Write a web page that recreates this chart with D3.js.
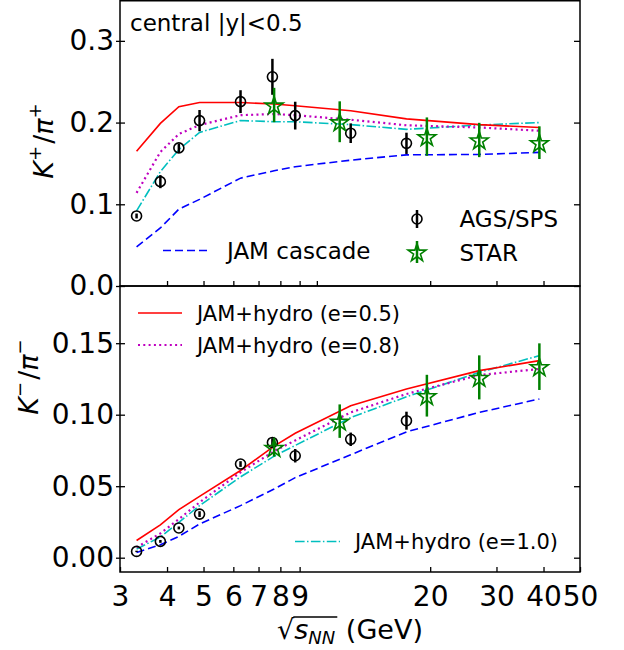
<!DOCTYPE html>
<html>
<head>
<meta charset="utf-8">
<script src="https://cdn.jsdelivr.net/npm/d3@7"></script>
<style>
  body { margin: 0; background: #fff; }
  text { font-family: "DejaVu Sans", sans-serif; fill: #000; }
</style>
</head>
<body>
<svg id="fig" width="624" height="650"></svg>
<script>
// Collision energies (GeV) of the model calculations
const modelEnergies = [3.32, 3.84, 4.3, 4.88, 6.27, 7.7, 8.76, 12.3, 17.3, 27, 39];

// K+/pi+ model curves
const kpHydro05  = [0.165, 0.199, 0.2195, 0.2245, 0.2245, 0.2228, 0.2205, 0.2145, 0.2045, 0.1975, 0.194];
const kpHydro08  = [0.114, 0.164, 0.186, 0.197, 0.209, 0.2105, 0.209, 0.2035, 0.1967, 0.194, 0.190];
const kpHydro10  = [0.092, 0.140, 0.167, 0.188, 0.2025, 0.201, 0.201, 0.1975, 0.1917, 0.197, 0.200];
const kpCascade  = [0.048, 0.071, 0.094, 0.106, 0.132, 0.141, 0.146, 0.154, 0.1605, 0.161, 0.1635];

// K-/pi- model curves
const kmHydro05  = [0.012, 0.023, 0.0336, 0.0429, 0.061, 0.078, 0.087, 0.1063, 0.118, 0.1308, 0.1378];
const kmHydro08  = [0.0072, 0.017, 0.027, 0.0387, 0.0597, 0.0745, 0.082, 0.1016, 0.1145, 0.1277, 0.132];
const kmHydro10  = [0.006, 0.0145, 0.0247, 0.0364, 0.0565, 0.071, 0.0785, 0.098, 0.1125, 0.1296, 0.1413];
const kmCascade  = [0.0037, 0.009, 0.0149, 0.0236, 0.0364, 0.048, 0.056, 0.072, 0.088, 0.1016, 0.111];

// AGS/SPS measurements
const agsEnergies = [3.32, 3.84, 4.3, 4.88, 6.27, 7.62, 8.76, 12.3, 17.3];
const agsKp    = [0.0857, 0.1277, 0.169, 0.2024, 0.2256, 0.256, 0.2085, 0.187, 0.1746];
const agsKpErr = [0.003, 0.008, 0.005, 0.013, 0.014, 0.022, 0.017, 0.012, 0.013];
const agsKm    = [0.0044, 0.0114, 0.0208, 0.0305, 0.0655, 0.0806, 0.0713, 0.0828, 0.0958];
const agsKmErr = [0.0005, 0.001, 0.001, 0.002, 0.002, 0.003, 0.0047, 0.0047, 0.0063];

// STAR beam energy scan measurements
const starEnergies = [7.7, 11.5, 19.6, 27, 39];
const starKp    = [0.2215, 0.201, 0.1828, 0.1787, 0.1754];
const starKpErr = [0.021, 0.025, 0.0235, 0.021, 0.020];
const starKm    = [0.0771, 0.0955, 0.1133, 0.1261, 0.1336];
const starKmErr = [0.0064, 0.0117, 0.0146, 0.0154, 0.0163];

// Tick values
const xTickLabels = [3, 4, 5, 6, 7, 8, 9, 20, 30, 40, 50];
const xTicksTop = [4, 5, 6, 7, 8, 9, 10, 20, 30, 40];
const yTicksTop = [0.0, 0.1, 0.2, 0.3];
const yTicksBottom = [0.00, 0.05, 0.10, 0.15];

const svg = d3.select("#fig");
const L = 120, R = 580, T0 = 0, MID = 286, B = 572;
const TICK_FONT = "28px";

const x = d3.scaleLog().domain([3, 50]).range([L, R]);
const yTop = d3.scaleLinear().domain([0, 0.35]).range([MID, T0]);
const yBot = d3.scaleLinear().domain([-0.01, 0.19]).range([B, MID]);

const COL = { red: "#ff0000", mag: "#bf00bf", cyan: "#00bfbf", blue: "#0000ff", green: "#008000" };
const styles = {
  h05: { color: COL.red, dash: null, width: 1.6 },
  h08: { color: COL.mag, dash: "2,3.3", width: 2.2 },
  h10: { color: COL.cyan, dash: "9.6,2.4,1.5,2.4", width: 1.6 },
  cas: { color: COL.blue, dash: "8,4", width: 1.6 }
};

function drawCurve(g, vals, yScale, st) {
  const gen = d3.line().x((d, i) => x(modelEnergies[i])).y(d => yScale(d));
  g.append("path").attr("d", gen(vals))
    .attr("fill", "none").attr("stroke", st.color)
    .attr("stroke-width", st.width)
    .attr("stroke-dasharray", st.dash);
}

const starSym = d3.symbol().type(d3.symbolStar).size(100);

function drawAgs(g, vals, errs, yScale) {
  vals.forEach((v, i) => {
    const cx = x(agsEnergies[i]);
    g.append("line").attr("x1", cx).attr("x2", cx)
      .attr("y1", yScale(v - errs[i])).attr("y2", yScale(v + errs[i]))
      .attr("stroke", "#000").attr("stroke-width", 2.5);
    g.append("circle").attr("cx", cx).attr("cy", yScale(v)).attr("r", 5)
      .attr("fill", "none").attr("stroke", "#000").attr("stroke-width", 1.6);
  });
}

function drawStar(g, vals, errs, yScale) {
  vals.forEach((v, i) => {
    const cx = x(starEnergies[i]);
    g.append("line").attr("x1", cx).attr("x2", cx)
      .attr("y1", yScale(v - errs[i])).attr("y2", yScale(v + errs[i]))
      .attr("stroke", COL.green).attr("stroke-width", 2.5);
    g.append("path").attr("d", starSym())
      .attr("transform", `translate(${cx},${yScale(v) + 1})`)
      .attr("fill", "none").attr("stroke", COL.green).attr("stroke-width", 1.6);
  });
}

function yAxis(yScale, ticks, fmt) {
  const gl = svg.append("g").attr("transform", `translate(${L},0)`)
    .call(d3.axisLeft(yScale).tickValues(ticks).tickFormat(d3.format(fmt)).tickSize(4).tickPadding(2));
  gl.select(".domain").remove();
  gl.selectAll(".tick line").attr("x1", 5).attr("x2", -4).attr("stroke-width", 1.3);
  gl.selectAll(".tick text").style("font-size", TICK_FONT).style("font-family", "DejaVu Sans");
  const gr = svg.append("g").attr("transform", `translate(${R},0)`)
    .call(d3.axisRight(yScale).tickValues(ticks).tickSize(-6).tickFormat(""));
  gr.select(".domain").remove();
  gr.selectAll(".tick line").attr("stroke-width", 1.3);
}

// ---- top panel: K+/pi+ ----
const gTop = svg.append("g");
drawCurve(gTop, kpCascade, yTop, styles.cas);
drawCurve(gTop, kpHydro10, yTop, styles.h10);
drawCurve(gTop, kpHydro08, yTop, styles.h08);
drawCurve(gTop, kpHydro05, yTop, styles.h05);
drawAgs(gTop, agsKp, agsKpErr, yTop);
drawStar(gTop, starKp, starKpErr, yTop);

// ---- bottom panel: K-/pi- ----
const gBot = svg.append("g");
drawCurve(gBot, kmCascade, yBot, styles.cas);
drawCurve(gBot, kmHydro10, yBot, styles.h10);
drawCurve(gBot, kmHydro08, yBot, styles.h08);
drawCurve(gBot, kmHydro05, yBot, styles.h05);
drawAgs(gBot, agsKm, agsKmErr, yBot);
drawStar(gBot, starKm, starKmErr, yBot);

// axes
yAxis(yTop, yTicksTop, ".1f");
yAxis(yBot, yTicksBottom, ".2f");

const gxTop = svg.append("g").attr("transform", `translate(0,${MID})`)
  .call(d3.axisBottom(x).tickValues(xTicksTop).tickSize(-5).tickFormat(""));
gxTop.select(".domain").remove();
gxTop.selectAll(".tick line").attr("stroke-width", 1.3);

const gxBot = svg.append("g").attr("transform", `translate(0,${B})`)
  .call(d3.axisBottom(x).tickValues(xTickLabels).tickSize(-5).tickPadding(14).tickFormat(d3.format("d")));
gxBot.select(".domain").remove();
gxBot.selectAll(".tick line").attr("stroke-width", 1.3);
gxBot.selectAll(".tick text").style("font-size", TICK_FONT).style("font-family", "DejaVu Sans");

// frames
svg.append("rect").attr("x", L).attr("y", 0.75).attr("width", R - L).attr("height", MID - 0.75)
  .attr("fill", "none").attr("stroke", "#000").attr("stroke-width", 1.5);
svg.append("rect").attr("x", L).attr("y", MID).attr("width", R - L).attr("height", B - MID)
  .attr("fill", "none").attr("stroke", "#000").attr("stroke-width", 1.5);

// panel annotation
svg.append("text").attr("x", 130).attr("y", 31).style("font-size", "23px").text("central |y|<0.5");

// legends
function legLine(x1, x2, y, st, label, tx, fs) {
  svg.append("line").attr("x1", x1).attr("x2", x2).attr("y1", y).attr("y2", y)
    .attr("stroke", st.color).attr("stroke-width", st.width).attr("stroke-dasharray", st.dash);
  svg.append("text").attr("x", tx).attr("y", y + fs * 0.365).style("font-size", fs + "px").text(label);
}
legLine(163, 210, 250.5, styles.cas, "JAM cascade", 227, 23);
legLine(138, 182, 313, styles.h05, "JAM+hydro (e=0.5)", 197, 21);
legLine(138, 182, 345, styles.h08, "JAM+hydro (e=0.8)", 197, 21);
legLine(295, 340, 541.5, styles.h10, "JAM+hydro (e=1.0)", 355, 21);

// data legend
svg.append("line").attr("x1", 417).attr("x2", 417).attr("y1", 210).attr("y2", 228)
  .attr("stroke", "#000").attr("stroke-width", 2.5);
svg.append("circle").attr("cx", 417).attr("cy", 219).attr("r", 5)
  .attr("fill", "none").attr("stroke", "#000").attr("stroke-width", 1.6);
svg.append("text").attr("x", 459.5).attr("y", 226.5).style("font-size", "23px").text("AGS/SPS");
svg.append("line").attr("x1", 417).attr("x2", 417).attr("y1", 241).attr("y2", 263)
  .attr("stroke", COL.green).attr("stroke-width", 2.5);
svg.append("path").attr("d", starSym()).attr("transform", "translate(417,253)")
  .attr("fill", "none").attr("stroke", COL.green).attr("stroke-width", 1.6);
svg.append("text").attr("x", 459.5).attr("y", 260.5).style("font-size", "23px").text("STAR");

// y-axis titles: K+/pi+ and K-/pi-
function ratioLabel(cx, cy, sign) {
  const t = svg.append("text").attr("transform", `translate(${cx},${cy}) rotate(-90)`)
    .attr("text-anchor", "middle").style("font-size", "27px");
  t.append("tspan").style("font-style", "italic").text("K");
  t.append("tspan").attr("dy", -12).style("font-size", "18px").text(sign);
  t.append("tspan").attr("dy", 12).attr("dx", 2).text("/");
  t.append("tspan").style("font-style", "italic").text("π");
  t.append("tspan").attr("dy", -12).style("font-size", "18px").text(sign);
}
ratioLabel(53, 141, "+");
ratioLabel(38, 377, "\u2212");

// x-axis title: sqrt(s_NN) (GeV)
(function () {
  const base = 639;
  const g = svg.append("g");
  const rad = g.append("text").attr("y", base).style("font-size", "27px").text("\u221A");
  const s = g.append("text").attr("y", base).style("font-size", "27px").style("font-style", "italic").text("s");
  const nn = g.append("text").attr("y", base + 5).style("font-size", "18px").style("font-style", "italic").text("NN");
  const gev = g.append("text").attr("y", base).style("font-size", "27px").text("\u00A0(GeV)");
  const wRad = rad.node().getComputedTextLength();
  const wS = s.node().getComputedTextLength();
  const wNN = nn.node().getComputedTextLength();
  const wG = gev.node().getComputedTextLength();
  const total = wRad + wS + wNN + 2 + wG;
  let cx = 350 - total / 2;
  rad.attr("x", cx); cx += wRad;
  const barStart = cx - 1;
  s.attr("x", cx); cx += wS;
  nn.attr("x", cx); cx += wNN + 2;
  g.append("line").attr("x1", barStart).attr("x2", cx).attr("y1", base - 22).attr("y2", base - 22)
    .attr("stroke", "#000").attr("stroke-width", 1.3);
  gev.attr("x", cx);
})();
</script>
</body>
</html>
